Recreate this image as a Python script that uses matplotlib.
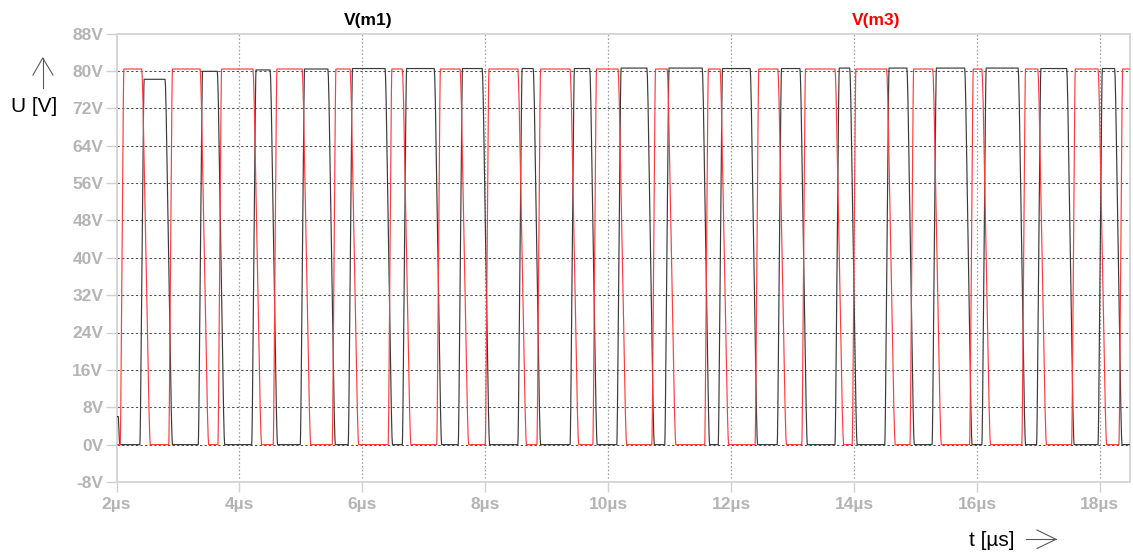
import matplotlib
matplotlib.use("Agg")
import matplotlib.pyplot as plt
from matplotlib.lines import Line2D
from matplotlib.font_manager import FontProperties

# Switching instants (µs) – start of each edge
m3_rise = [2.06, 2.85, 3.65, 4.55, 5.51, 6.42, 7.21, 8.00, 8.84, 9.75, 10.71,
           11.57, 12.39, 13.15, 13.97, 14.91, 15.88, 16.73, 17.54, 18.31]
m3_fall = [2.41, 3.36, 4.22, 5.02, 5.80, 6.65, 7.59, 8.53, 9.38, 10.16, 10.96,
           11.82, 12.76, 13.69, 14.53, 15.28, 16.08, 16.99, 17.97]
m1_rise = [2.38, 3.33, 4.20, 4.99, 5.77, 6.65, 7.56, 8.53, 9.38, 10.14, 10.92,
           11.79, 12.75, 13.69, 14.50, 15.27, 16.08, 16.97, 17.97]
m1_fall = [2.79, 3.64, 4.50, 5.44, 6.37, 7.17, 7.95, 8.78, 9.70, 10.63, 11.53,
           12.31, 13.12, 13.93, 14.86, 15.80, 16.67, 17.46, 18.24]

# Plateau levels (V)
m3_high = 80.4
m1_high = [78.2, 79.9, 80.2, 80.4, 80.5, 80.5, 80.5, 80.5, 80.5, 80.6, 80.6,
           80.5, 80.5, 80.6, 80.6, 80.6, 80.6, 80.5, 80.5]
m1_start = 6.0

# Edge durations (µs)
m3_tr, m3_tf = 0.06, 0.14
m1_tr, m1_tf = 0.07, 0.12

t_start, t_end = 2.0, 18.49
y_ticks = list(range(-8, 89, 8))
x_ticks = list(range(2, 19, 2))

# Normalised switching-edge profile (fraction of edge time, fraction of swing)
EDGE_PROFILE = [(0.0, 0.0), (0.06, 0.02), (0.15, 0.09), (0.5, 0.5),
                (0.85, 0.91), (0.94, 0.98), (1.0, 1.0)]


def add_edge(ts, vs, t0, dur, v_from, v_to):
    for fu, fv in EDGE_PROFILE:
        ts.append(t0 + fu * dur)
        vs.append(v_from + fv * (v_to - v_from))


def build_wave(rises, falls, highs, tr, tf, t0, t1, v0=0.0):
    ts, vs = [t0], [v0]
    if v0 != 0.0:
        ts += [t0 + 0.03, t0 + 0.05]
        vs += [v0, 0.0]
    for i, r in enumerate(rises):
        h = highs[i] if isinstance(highs, list) else highs
        add_edge(ts, vs, r, tr, 0.0, h)
        if i < len(falls):
            add_edge(ts, vs, falls[i], tf, h, 0.0)
    ts.append(t1)
    vs.append(vs[-1])
    return ts, vs


W, H = 1133, 560
fig = plt.figure(figsize=(W / 100, H / 100), dpi=100)
fig.patch.set_facecolor("white")

ax = fig.add_axes([116.5 / W, 1 - 482 / H, (1130 - 116.5) / W, (482 - 33.5) / H])

t1, v1 = build_wave(m1_rise, m1_fall, m1_high, m1_tr, m1_tf, t_start, t_end, m1_start)
t3, v3 = build_wave(m3_rise, m3_fall, m3_high, m3_tr, m3_tf, t_start, t_end)
ax.plot(t1, v1, color="#3a3a3a", lw=0.85, zorder=3)
ax.plot(t3, v3, color="#ff3c3c", lw=0.85, zorder=4)

ax.set_xlim(t_start, t_end)
ax.set_ylim(-8, 88)
ax.set_xticks(x_ticks)
ax.set_xticklabels([f"{v}µs" for v in x_ticks])
ax.set_yticks(y_ticks)
ax.set_yticklabels([f"{v}V" for v in y_ticks])

for v in y_ticks[1:-1]:
    ax.axhline(v, color="#505050", lw=0.75, ls=(0, (2.2, 2.2)), zorder=1)
for v in x_ticks[1:]:
    ax.axvline(v, color="#9a9a9a", lw=0.9, ls=(0, (1.2, 1.8)), zorder=1)

for s in ax.spines.values():
    s.set_color("#d6d6d6")
    s.set_linewidth(1.4)

lbl_font = FontProperties(family="Liberation Sans", weight="bold", size=12.5)
ax.tick_params(axis="both", colors="#d0d0d0", width=1.0, labelcolor="#b4b4b4")
ax.tick_params(axis="y", length=8, pad=1.5)
ax.tick_params(axis="x", length=7.5, pad=3.5)
for lab in ax.get_xticklabels() + ax.get_yticklabels():
    lab.set_fontproperties(lbl_font)

# Trace names
fig.text(368 / W, 1 - 20 / H, "V(m1)", ha="center", va="center",
         family="Liberation Sans", weight="bold", size=12.5, color="black")
fig.text(876 / W, 1 - 20 / H, "V(m3)", ha="center", va="center",
         family="Liberation Sans", weight="bold", size=12.5, color="#ff0000")

# Axis captions
fig.text(34 / W, 1 - 106 / H, "U [V]", ha="center", va="center",
         family="Liberation Sans", size=15, color="black")
fig.text(992 / W, 1 - 541 / H, "t [µs]", ha="center", va="center",
         family="Liberation Sans", size=15, color="black")

# Direction arrows drawn in figure pixel coordinates
ov = fig.add_axes([0, 0, 1, 1], facecolor="none")
ov.set_xlim(0, W)
ov.set_ylim(H, 0)
ov.axis("off")
arrow_kw = dict(color="#5a5a5a", lw=0.8)
ov.add_line(Line2D([42.7, 42.7], [88, 58], **arrow_kw))
ov.add_line(Line2D([33, 42.7, 53], [75, 58, 75], **arrow_kw))
ov.add_line(Line2D([1026, 1056], [539.3, 539.3], **arrow_kw))
ov.add_line(Line2D([1037, 1056, 1037], [530, 539.3, 548.5], **arrow_kw))

fig.savefig("out.png", dpi=100, facecolor="white")
